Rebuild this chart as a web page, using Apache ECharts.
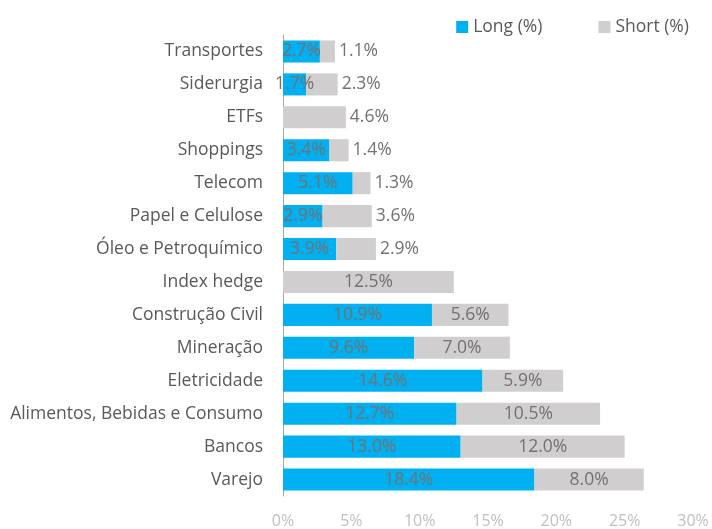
<!DOCTYPE html>
<html><head><meta charset="utf-8">
<script src="https://cdn.jsdelivr.net/npm/echarts@6/dist/echarts.min.js"></script>
<style>html,body{margin:0;padding:0;background:#fff}#c{width:712px;height:529px}</style>
</head><body><div id="c"></div>
<script>
const categories = ['Transportes','Siderurgia','ETFs','Shoppings','Telecom','Papel e Celulose','Óleo e Petroquímico','Index hedge','Construção Civil','Mineração','Eletricidade','Alimentos, Bebidas e Consumo','Bancos','Varejo'];
const longVals = [2.7,1.7,null,3.4,5.1,2.9,3.9,null,10.9,9.6,14.6,12.7,13.0,18.4];
const shortVals = [1.1,2.3,4.6,1.4,1.3,3.6,2.9,12.5,5.6,7.0,5.9,10.5,12.0,8.0];
const xTicks = [0,5,10,15,20,25,30];

const FONT = 'Open Sans';
const labelColor = '#767171';
const fmt = p => p.value == null ? '' : p.value.toFixed(1) + '%';

const shortData = shortVals.map(v => v != null && v < 5 ?
  {value: v, label: {position: 'right', distance: 4}} : {value: v});

const chart = echarts.init(document.getElementById('c'));
chart.setOption({
  animation: false,
  textStyle: {fontFamily: FONT},
  legend: {
    top: 13, right: 18, itemWidth: 12, itemHeight: 12, itemGap: 56,
    icon: 'rect',
    textStyle: {fontFamily: FONT, fontSize: 17.5, color: '#595959'},
    data: ['Long (%)', 'Short (%)']
  },
  grid: {left: 283, right: 19, top: 35, bottom: 33, containLabel: false},
  xAxis: {
    type: 'value', min: xTicks[0], max: xTicks[xTicks.length-1], interval: 5,
    axisLine: {show: false}, axisTick: {show: false}, splitLine: {show: false},
    axisLabel: {formatter: v => v + '%', color: '#bfbfbf', fontSize: 16, fontFamily: FONT, margin: 17}
  },
  yAxis: {
    type: 'category', data: categories, inverse: true,
    axisLine: {show: true, lineStyle: {color: '#a6a6a6', width: 1}},
    axisTick: {show: false},
    axisLabel: {color: '#595959', fontSize: 17.5, fontFamily: FONT, margin: 20}
  },
  series: [
    {name: 'Long (%)', type: 'bar', stack: 's', data: longVals, barWidth: '67%',
     itemStyle: {color: '#00b0f0'},
     label: {show: true, position: 'inside', formatter: fmt, color: labelColor, fontSize: 17.5, fontFamily: FONT}},
    {name: 'Short (%)', type: 'bar', stack: 's', data: shortData, barWidth: '67%',
     itemStyle: {color: '#d0cece'},
     label: {show: true, position: 'inside', formatter: fmt, color: labelColor, fontSize: 17.5, fontFamily: FONT}}
  ]
});
</script></body></html>
